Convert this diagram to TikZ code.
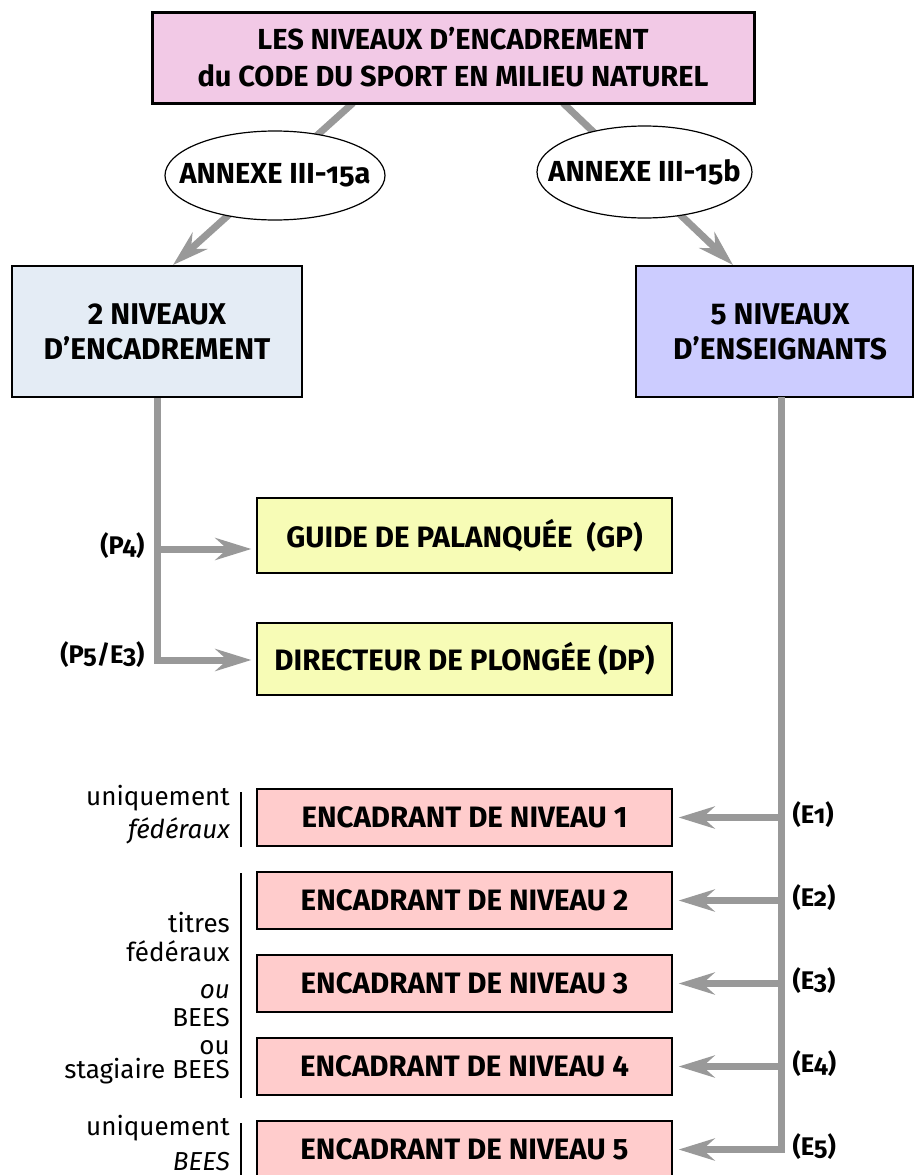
\documentclass[tikz,border=0pt]{standalone}
\usepackage{fontspec}
\setmainfont{Fira Sans}
\newfontfamily\osfont[Numbers=OldStyle]{Fira Sans}
\usetikzlibrary{arrows.meta,shapes.geometric,positioning}
\definecolor{titrerose}{HTML}{F2C9E6}
\definecolor{encadbleu}{HTML}{E4ECF5}
\definecolor{enseibleu}{HTML}{CCCCFF}
\definecolor{guidejaune}{HTML}{F7FCB6}
\definecolor{niveaurose}{HTML}{FFCCCC}
\definecolor{fleche}{HTML}{999999}
\tikzset{>={Stealth[length=36pt,width=22pt,inset=12pt]}}
\tikzset{conn/.style={draw=fleche,line width=7pt}}
\tikzset{grandbox/.style={draw,line width=2.5pt,align=center,font=\bfseries\fontsize{30}{35}\selectfont}}
\tikzset{annexe/.style={ellipse,draw,fill=white,line width=1.2pt,inner xsep=-40pt,inner ysep=0pt,font=\bfseries\osfont\fontsize{29}{32}\selectfont}}
\tikzset{niveau/.style={draw,line width=1.2pt,minimum width=415pt,minimum height=57pt,fill=niveaurose,font=\bfseries\fontsize{29.5}{32}\selectfont}}
\tikzset{etiq/.style={font=\bfseries\osfont\fontsize{25.5}{28}\selectfont}}
\tikzset{remarque/.style={anchor=base east,inner sep=0pt,font=\fontsize{26}{30}\selectfont}}
\tikzset{barre/.style={line width=1.2pt}}

\begin{document}
\begin{tikzpicture}[x=1pt,y=-1pt]
      \useasboundingbox (0,0) rectangle (914,1175);
      % liens du titre vers les deux annexes
      \coordinate (tg) at (353,103);
      \coordinate (eg) at (173,265);
      \coordinate (td) at (563,103);
      \coordinate (ed) at (733,265);
      \draw[conn,->] (tg) -- (eg);
      \draw[conn,->] (td) -- (ed);
      \node[grandbox,fill=titrerose,line width=3pt,minimum width=602pt,minimum height=91pt,font=\bfseries\fontsize{29}{37}\selectfont] (titre) at (453,57.5)
        {LES NIVEAUX D’ENCADREMENT\\du CODE DU SPORT EN MILIEU NATUREL};
      \node[annexe,minimum width=220pt,minimum height=89pt] (annA) at (275,175.5) {ANNEXE III-15a};
      \node[annexe,minimum width=215pt,minimum height=92pt] (annB) at (644.5,172) {ANNEXE III-15b};
      \node[grandbox,fill=encadbleu,minimum width=290pt,minimum height=131pt] (encad) at (157,331.5)
        {2 NIVEAUX\\D’ENCADREMENT};
      \node[grandbox,fill=enseibleu,minimum width=277pt,minimum height=131pt] (ensei) at (774.5,331.5)
        {\hspace*{11pt}5 NIVEAUX\\\hspace*{11pt}D’ENSEIGNANTS};
      % les deux niveaux d'encadrement
      \node[niveau,fill=guidejaune,minimum height=75pt] (gp) at (464.5,535.5) {GUIDE DE PALANQUÉE\ \ (GP)};
      \node[niveau,fill=guidejaune,minimum height=72pt] (dp) at (464.5,659) {DIRECTEUR DE PLONGÉE (DP)};
      \coordinate (p4) at (157,549);
      \coordinate (p5) at (157,660);
      \draw[conn,->,shorten >=5pt] (encad.south) -- (p5) -- (p5 -| dp.west);
      \draw[conn,->,shorten >=5pt] (p4) -- (p4 -| gp.west);
      \node[etiq,anchor=east] (lp4) at (148,546) {(P4)};
      \node[etiq,anchor=east] (lp5) at (148,655) {(P5/E3)};
      % les cinq niveaux d'enseignants
      \node[niveau] (n1) at (464.5,817.5) {ENCADRANT DE NIVEAU 1};
      \node[niveau] (n2) at (464.5,900.5) {ENCADRANT DE NIVEAU 2};
      \node[niveau] (n3) at (464.5,983.5) {ENCADRANT DE NIVEAU 3};
      \node[niveau] (n4) at (464.5,1066.5) {ENCADRANT DE NIVEAU 4};
      \node[niveau] (n5) at (464.5,1149.5) {ENCADRANT DE NIVEAU 5};
      \coordinate (e0) at (781,397);
      \draw[conn,->,shorten >=6pt] (e0) |- (n5.east);
      \draw[conn,->,shorten >=6pt] (e0 |- n1.east) -- (n1.east);
      \draw[conn,->,shorten >=6pt] (e0 |- n2.east) -- (n2.east);
      \draw[conn,->,shorten >=6pt] (e0 |- n3.east) -- (n3.east);
      \draw[conn,->,shorten >=6pt] (e0 |- n4.east) -- (n4.east);
      \node[etiq,anchor=west] (le1) at (789,815) {(E1)};
      \node[etiq,anchor=west] (le2) at (789,898) {(E2)};
      \node[etiq,anchor=west] (le3) at (789,981) {(E3)};
      \node[etiq,anchor=west] (le4) at (789,1064) {(E4)};
      \node[etiq,anchor=west] (le5) at (789,1147) {(E5)};
      % remarques a gauche
      \node[remarque] (r1) at (230,805) {uniquement};
      \node[remarque] (r2) at (230,838) {\itshape fédéraux};
      \node[remarque] (r3) at (230,932) {titres};
      \node[remarque] (r4) at (230,961) {fédéraux};
      \node[remarque] (r5) at (230,998) {\itshape ou};
      \node[remarque] (r6) at (230,1026) {BEES};
      \node[remarque] (r7) at (230,1054) {ou};
      \node[remarque] (r8) at (230,1078) {stagiaire BEES};
      \node[remarque] (r9) at (230,1135) {uniquement};
      \node[remarque] (r10) at (230,1170) {\itshape BEES};
      \draw[barre] (241,792) -- (241,847);
      \draw[barre] (241,873) -- (241,1098);
      \draw[barre] (241,1123) -- (241,1176);
    \end{tikzpicture}
\end{document}
